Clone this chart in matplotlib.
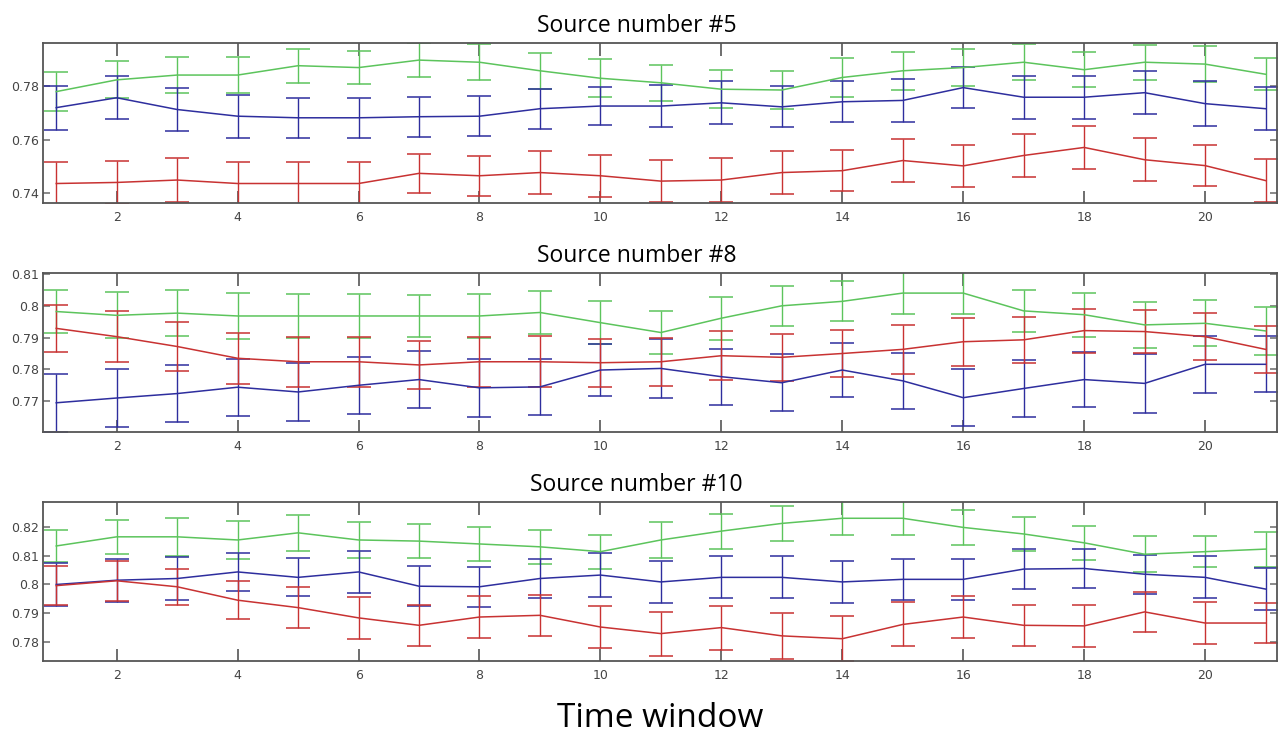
import matplotlib
matplotlib.use('Agg')
import matplotlib.pyplot as plt
import numpy as np

# time windows
windows = np.arange(1, 22)

# Source number #5
s5_green = [0.7780, 0.7824, 0.7842, 0.7842, 0.7877, 0.7870, 0.7898, 0.7890, 0.7858, 0.7830, 0.7813,
            0.7789, 0.7786, 0.7833, 0.7858, 0.7870, 0.7890, 0.7862, 0.7890, 0.7883, 0.7845]
s5_green_err = [0.0072, 0.0069, 0.0066, 0.0066, 0.0063, 0.0063, 0.0064, 0.0068, 0.0067, 0.0071, 0.0068,
                0.0072, 0.0072, 0.0072, 0.0071, 0.0069, 0.0068, 0.0066, 0.0066, 0.0066, 0.0060]
s5_blue = [0.7720, 0.7757, 0.7713, 0.7688, 0.7682, 0.7682, 0.7686, 0.7688, 0.7716, 0.7726, 0.7726,
           0.7738, 0.7723, 0.7742, 0.7747, 0.7795, 0.7759, 0.7759, 0.7776, 0.7735, 0.7716]
s5_blue_err = [0.0082, 0.0080, 0.0080, 0.0080, 0.0074, 0.0074, 0.0075, 0.0074, 0.0075, 0.0070, 0.0078,
               0.0080, 0.0077, 0.0077, 0.0080, 0.0077, 0.0081, 0.0081, 0.0081, 0.0083, 0.0080]
s5_red = [0.7436, 0.7440, 0.7449, 0.7436, 0.7436, 0.7436, 0.7474, 0.7465, 0.7477, 0.7465, 0.7445,
          0.7449, 0.7477, 0.7484, 0.7522, 0.7502, 0.7541, 0.7571, 0.7525, 0.7503, 0.7447]
s5_red_err = [0.0082, 0.0081, 0.0082, 0.0079, 0.0079, 0.0079, 0.0074, 0.0075, 0.0079, 0.0079, 0.0079,
              0.0082, 0.0080, 0.0077, 0.0079, 0.0080, 0.0080, 0.0079, 0.0081, 0.0077, 0.0079]

# Source number #8
s8_green = [0.7982, 0.7970, 0.7977, 0.7968, 0.7968, 0.7968, 0.7968, 0.7968, 0.7979, 0.7947, 0.7916,
            0.7961, 0.8000, 0.8014, 0.8040, 0.8040, 0.7984, 0.7972, 0.7940, 0.7945, 0.7921]
s8_green_err = [0.0068, 0.0072, 0.0072, 0.0073, 0.0068, 0.0069, 0.0066, 0.0069, 0.0067, 0.0068, 0.0069,
                0.0068, 0.0063, 0.0063, 0.0067, 0.0067, 0.0065, 0.0069, 0.0072, 0.0072, 0.0075]
s8_blue = [0.7695, 0.7710, 0.7724, 0.7744, 0.7729, 0.7750, 0.7768, 0.7742, 0.7745, 0.7798, 0.7803,
           0.7777, 0.7758, 0.7798, 0.7764, 0.7711, 0.7740, 0.7768, 0.7756, 0.7816, 0.7816]
s8_blue_err = [0.0092, 0.0092, 0.0090, 0.0090, 0.0090, 0.0090, 0.0090, 0.0091, 0.0089, 0.0082, 0.0092,
               0.0088, 0.0089, 0.0086, 0.0087, 0.0089, 0.0090, 0.0087, 0.0093, 0.0090, 0.0088]
s8_red = [0.7929, 0.7903, 0.7872, 0.7835, 0.7824, 0.7824, 0.7814, 0.7824, 0.7824, 0.7821, 0.7824,
          0.7843, 0.7838, 0.7850, 0.7863, 0.7887, 0.7893, 0.7922, 0.7919, 0.7903, 0.7863]
s8_red_err = [0.0073, 0.0080, 0.0077, 0.0080, 0.0079, 0.0079, 0.0075, 0.0079, 0.0080, 0.0075, 0.0076,
              0.0077, 0.0073, 0.0075, 0.0078, 0.0076, 0.0072, 0.0069, 0.0068, 0.0073, 0.0073]

# Source number #10
s10_green = [0.8135, 0.8167, 0.8167, 0.8156, 0.8181, 0.8156, 0.8152, 0.8142, 0.8132, 0.8115, 0.8156,
             0.8187, 0.8214, 0.8232, 0.8232, 0.8200, 0.8177, 0.8146, 0.8106, 0.8115, 0.8124]
s10_green_err = [0.0055, 0.0060, 0.0066, 0.0066, 0.0063, 0.0063, 0.0060, 0.0059, 0.0060, 0.0060, 0.0063,
                 0.0061, 0.0060, 0.0060, 0.0060, 0.0060, 0.0060, 0.0060, 0.0063, 0.0055, 0.0061]
s10_blue = [0.8000, 0.8015, 0.8021, 0.8044, 0.8025, 0.8044, 0.7994, 0.7992, 0.8021, 0.8033, 0.8009,
            0.8025, 0.8025, 0.8009, 0.8018, 0.8018, 0.8054, 0.8056, 0.8036, 0.8025, 0.7984]
s10_blue_err = [0.0076, 0.0076, 0.0076, 0.0068, 0.0067, 0.0073, 0.0071, 0.0071, 0.0070, 0.0076, 0.0073,
                0.0074, 0.0074, 0.0073, 0.0072, 0.0073, 0.0070, 0.0070, 0.0069, 0.0074, 0.0074]
s10_red = [0.7996, 0.8013, 0.7992, 0.7945, 0.7919, 0.7883, 0.7857, 0.7886, 0.7892, 0.7851, 0.7828,
           0.7849, 0.7820, 0.7810, 0.7860, 0.7886, 0.7857, 0.7855, 0.7904, 0.7865, 0.7865]
s10_red_err = [0.0069, 0.0070, 0.0064, 0.0067, 0.0072, 0.0073, 0.0071, 0.0073, 0.0071, 0.0073, 0.0077,
               0.0077, 0.0081, 0.0078, 0.0077, 0.0074, 0.0071, 0.0073, 0.0069, 0.0073, 0.0071]

titles = ['Source number #5', 'Source number #8', 'Source number #10']
ylims = [(0.7363, 0.7962), (0.7603, 0.8103), (0.7732, 0.8289)]
yticks = [[0.74, 0.76, 0.78], [0.77, 0.78, 0.79, 0.80, 0.81], [0.78, 0.79, 0.80, 0.81, 0.82]]
ytick_labels = [['0.74', '0.76', '0.78'],
                ['0.77', '0.78', '0.79', '0.8', '0.81'],
                ['0.78', '0.79', '0.8', '0.81', '0.82']]

panels = [
    [(s5_green, s5_green_err), (s5_blue, s5_blue_err), (s5_red, s5_red_err)],
    [(s8_green, s8_green_err), (s8_blue, s8_blue_err), (s8_red, s8_red_err)],
    [(s10_green, s10_green_err), (s10_blue, s10_blue_err), (s10_red, s10_red_err)],
]
colors = ['#5cc45c', '#2e2e9e', '#c83232']

fig = plt.figure(figsize=(12.82, 7.35), dpi=100)
# axes rectangles [left, bottom, width, height]
rects = [[0.0335, 0.7238, 0.9626, 0.2177],
         [0.0335, 0.4122, 0.9626, 0.2163],
         [0.0335, 0.1007, 0.9626, 0.2163]]

for rect, series, title, ylim, yt, ytl in zip(rects, panels, titles, ylims, yticks, ytick_labels):
    ax = fig.add_axes(rect)
    for (vals, errs), c in zip(series, colors):
        ax.errorbar(windows, vals, yerr=errs, color=c, linewidth=1.1, elinewidth=1.0,
                    capsize=8.5, capthick=1.1)
    ax.set_xlim(0.78, 21.19)
    ax.set_ylim(ylim)
    ax.set_xticks(np.arange(2, 21, 2))
    ax.set_yticks(yt)
    ax.set_yticklabels(ytl)
    ax.tick_params(axis='x', direction='in', length=9, width=1.2, color='#555555',
                   top=True, labelsize=9, labelcolor='#444444', pad=6)
    ax.tick_params(axis='y', direction='in', length=5, width=1.2, color='#777777',
                   right=True, labelsize=9, labelcolor='#444444', pad=3)
    for sp in ax.spines.values():
        sp.set_color('#555555')
        sp.set_linewidth(1.3)
    # titles sit a bit left of the axes centre in the original
    ax.set_title(title, fontsize=16.5, family='Open Sans', x=0.481, pad=8)

fig.text(0.515, 0.023, 'Time window', ha='center', va='center', fontsize=24, family='Open Sans')

fig.savefig('out.png', dpi=100)
